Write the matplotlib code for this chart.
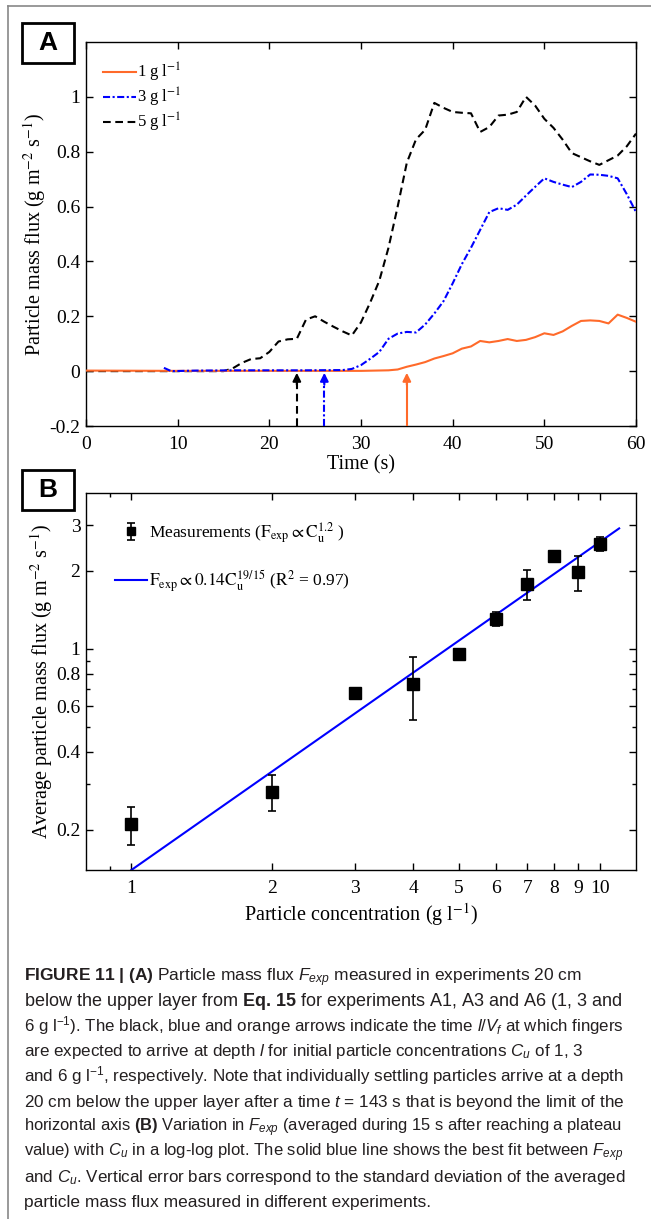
import matplotlib
matplotlib.use("Agg")
import matplotlib.pyplot as plt
from matplotlib.patches import Rectangle
from matplotlib.lines import Line2D
from matplotlib.ticker import FixedLocator, NullFormatter

# ---- panel A : particle mass flux vs time ----
t1 = [0, 10, 20, 30, 33, 34, 35, 36, 37, 38, 39, 40, 41, 42, 43, 44, 45, 46,
      47, 48, 49, 50, 51, 52, 53, 54, 55, 56, 57, 58, 59, 60]
f1 = [0.002, 0.001, 0.001, 0.001, 0.003, 0.006, 0.016, 0.024, 0.033, 0.046,
      0.055, 0.065, 0.082, 0.09, 0.11, 0.105, 0.11, 0.117, 0.11, 0.114, 0.124,
      0.138, 0.132, 0.145, 0.165, 0.183, 0.185, 0.183, 0.174, 0.206, 0.194, 0.18]

t3 = [8.5, 9.3, 12, 16, 20, 24, 28, 29, 30, 31, 32, 33, 34, 35, 36, 37, 38,
      39, 40, 41, 42, 43, 44, 45, 46, 47, 48, 49, 50, 51, 52, 53, 54, 55, 56,
      57, 58, 59, 60]
f3 = [0.012, 0.0, 0.002, 0.003, 0.003, 0.003, 0.004, 0.008, 0.022, 0.045,
      0.07, 0.118, 0.137, 0.143, 0.141, 0.17, 0.21, 0.255, 0.32, 0.39, 0.45,
      0.515, 0.58, 0.594, 0.588, 0.607, 0.64, 0.672, 0.703, 0.69, 0.68, 0.671,
      0.69, 0.717, 0.716, 0.712, 0.703, 0.645, 0.58]

t5 = [0, 15, 16, 17, 18, 19, 20, 21, 22, 23, 24, 25, 26, 27, 28, 29, 30, 31,
      32, 33, 34, 35, 36, 37, 38, 39, 40, 41, 42, 43, 44, 45, 46, 47, 48, 49,
      50, 51, 52, 53, 54, 55, 56, 57, 58, 59, 60]
f5 = [0, 0, 0.01, 0.03, 0.044, 0.047, 0.07, 0.108, 0.116, 0.118, 0.188, 0.2,
      0.18, 0.162, 0.145, 0.13, 0.178, 0.25, 0.33, 0.45, 0.6, 0.76, 0.845,
      0.88, 0.978, 0.96, 0.945, 0.942, 0.94, 0.872, 0.89, 0.932, 0.935, 0.945,
      1.0, 0.968, 0.92, 0.887, 0.844, 0.795, 0.78, 0.765, 0.752, 0.769, 0.786,
      0.82, 0.866]

arrow_t = [23, 26, 35]          # l/V_f for 5, 3, 1 g/l

# ---- panel B : averaged flux vs concentration ----
conc = [1, 2, 3, 4, 5, 6, 7, 8, 9, 10]
flux = [0.21, 0.281, 0.678, 0.733, 0.956, 1.31, 1.78, 2.29, 1.98, 2.54]
flux_err = [0.035, 0.044, 0.025, 0.2, 0.0, 0.08, 0.23, 0.05, 0.31, 0.16]
fit_c = [1, 11]
fit_f = [0.14, 2.92]

caption = [
    r"$\mathbf{FIGURE}$ $\mathbf{11}$ $\mathbf{|}$ $\mathbf{(A)}$ Particle mass flux $F_{exp}$ measured in experiments 20 cm",
    r"below the upper layer from $\mathbf{Eq.\,15}$ for experiments A1, A3 and A6 (1, 3 and",
    r"6 g l$^{-1}$). The black, blue and orange arrows indicate the time $l/V_f$ at which fingers",
    r"are expected to arrive at depth $l$ for initial particle concentrations $C_u$ of 1, 3",
    r"and 6 g l$^{-1}$, respectively. Note that individually settling particles arrive at a depth",
    r"20 cm below the upper layer after a time $t$ = 143 s that is beyond the limit of the",
    r"horizontal axis $\mathbf{(B)}$ Variation in $F_{exp}$ (averaged during 15 s after reaching a plateau",
    r"value) with $C_u$ in a log-log plot. The solid blue line shows the best fit between $F_{exp}$",
    r"and $C_u$. Vertical error bars correspond to the standard deviation of the averaged",
    r"particle mass flux measured in different experiments.",
]
# right edge (px) of each caption line in the page
caption_right = [583, 622, 624, 583, 624, 624, 624, 624, 624, 431]

ORANGE = "#ff6a2a"
BLUE = "#0000ff"
CAP_FONT = "Liberation Sans"

plt.rcParams["font.family"] = "Liberation Serif"
plt.rcParams["mathtext.fontset"] = "stix"
plt.rcParams["mathtext.rm"] = CAP_FONT
plt.rcParams["mathtext.sf"] = CAP_FONT
plt.rcParams["mathtext.it"] = CAP_FONT + ":italic"
plt.rcParams["mathtext.bf"] = CAP_FONT + ":bold"
plt.rcParams["axes.linewidth"] = 1.0

W, H = 651, 1219
fig = plt.figure(figsize=(W / 100, H / 100), dpi=100)


def fx(px):
    return px / W


def fy(py):
    return 1 - py / H


def style_ticks(ax):
    ax.tick_params(which="both", direction="in", top=True, right=True,
                   width=1.0, labelsize=14)
    ax.tick_params(axis="x", pad=7)
    ax.tick_params(axis="y", pad=4)
    ax.tick_params(which="major", length=5)
    ax.tick_params(which="minor", length=3)


# ---------------- panel A ----------------
axA = fig.add_axes([fx(86), fy(426), fx(636) - fx(86), fy(42) - fy(426)])
l5, = axA.plot(t5, f5, color="k", ls="--", dashes=(3.7, 2.2), lw=1.5, zorder=2)
l1, = axA.plot(t1, f1, color=ORANGE, ls="-", lw=1.5, zorder=3)
l3, = axA.plot(t3, f3, color=BLUE, ls="-.", dashes=(3.4, 1.2, 1.0, 1.2), lw=1.5, zorder=4)

for t, c, d in zip(arrow_t, ["k", BLUE, ORANGE],
                   [(3.7, 2.2), (3.4, 1.2, 1.0, 1.2), None]):
    shaft, = axA.plot([t, t], [-0.2, -0.03], color=c, lw=1.5, zorder=5)
    if d is not None:
        shaft.set_dashes(d)
    axA.annotate("", xy=(t, -0.006), xytext=(t, -0.05),
                 arrowprops=dict(arrowstyle="-|>", color=c, lw=1.5,
                                 mutation_scale=12, shrinkA=0, shrinkB=0),
                 zorder=6)

axA.set_xlim(0, 60)
axA.set_ylim(-0.2, 1.2)
axA.set_xticks(range(0, 61, 10))
axA.set_yticks([-0.2, 0, 0.2, 0.4, 0.6, 0.8, 1])
axA.set_yticklabels(["-0.2", "0", "0.2", "0.4", "0.6", "0.8", "1"])
style_ticks(axA)
axA.set_xlabel("Time (s)", fontsize=14.5, labelpad=2)
axA.set_ylabel(r"Particle mass flux (g m$^{-2}$ s$^{-1}$)", fontsize=14.5, labelpad=1)
axA.legend([l1, l3, l5],
           [r"1 g l$^{-1}$", r"3 g l$^{-1}$", r"5 g l$^{-1}$"],
           loc="upper left", bbox_to_anchor=(0.004, 0.99), frameon=False,
           fontsize=12, handlelength=1.95, handletextpad=0.1, labelspacing=0.12)

# ---------------- panel B ----------------
axB = fig.add_axes([fx(86), fy(870), fx(636) - fx(86), fy(493) - fy(870)])
axB.set_xscale("log")
axB.set_yscale("log")
lfit, = axB.plot(fit_c, fit_f, color=BLUE, lw=1.5, zorder=2)
eb = axB.errorbar(conc, flux, yerr=flux_err, fmt="s", color="k", ms=9,
                  elinewidth=1.2, capsize=3, capthick=1.2, zorder=3)

axB.set_xlim(0.8, 11.95)
axB.set_ylim(0.14, 4.0)
axB.xaxis.set_major_locator(FixedLocator(conc))
axB.set_xticklabels([str(c) for c in conc])
axB.xaxis.set_minor_locator(FixedLocator([0.9]))
axB.xaxis.set_minor_formatter(NullFormatter())
yt = [0.2, 0.4, 0.6, 0.8, 1, 2, 3]
axB.yaxis.set_major_locator(FixedLocator(yt))
axB.set_yticklabels(["0.2", "0.4", "0.6", "0.8", "1", "2", "3"])
axB.yaxis.set_minor_locator(FixedLocator([0.3, 0.5, 0.7, 0.9]))
axB.yaxis.set_minor_formatter(NullFormatter())
style_ticks(axB)
axB.set_xlabel(r"Particle concentration (g l$^{-1}$)", fontsize=14.5, labelpad=3)
axB.set_ylabel(r"Average particle mass flux (g m$^{-2}$ s$^{-1}$)", fontsize=14.5, labelpad=1)
axB.legend([eb, lfit],
           [r"Measurements ($\mathrm{F}_\mathrm{exp}\propto\mathrm{C}_\mathrm{u}^{1.2}$ )",
            r"$\mathrm{F}_\mathrm{exp}\propto 0.14\mathrm{C}_\mathrm{u}^{19/15}$ ($\mathrm{R}^2$ = 0.97)"],
           loc="upper left", bbox_to_anchor=(0.025, 0.97), frameon=False,
           fontsize=12.5, handlelength=1.85, handletextpad=0.1,
           labelspacing=1.3, markerscale=0.6)

# ---------------- panel letters ----------------
for letter, top in [("A", 23), ("B", 470)]:
    fig.add_artist(Rectangle((fx(22), fy(top + 40)), fx(52), 40 / H,
                             transform=fig.transFigure, facecolor="white",
                             edgecolor="k", lw=2))
    fig.text(fx(48), fy(top + 20), letter, ha="center", va="center",
             family="Liberation Sans", weight="bold", fontsize=19)

# ---------------- page frame ----------------
fig.add_artist(Line2D([fx(8), fx(8)], [0, fy(6)], transform=fig.transFigure,
                      color="#888888", lw=1.2))
fig.add_artist(Line2D([fx(8), 1], [fy(6), fy(6)], transform=fig.transFigure,
                      color="#888888", lw=1.2))

# ---------------- caption ----------------
renderer = fig.canvas.get_renderer()
base = 12.6
for i, line in enumerate(caption):
    txt = fig.text(fx(24), fy(981 + 25.1 * i), line, ha="left", va="baseline",
                   family=CAP_FONT, fontsize=base, color="#231f20",
                   math_fontfamily="custom")
    w = txt.get_window_extent(renderer).width
    target = caption_right[i] - 24
    txt.set_fontsize(min(13.2, base * target / w))

fig.savefig("out.png", dpi=100)
